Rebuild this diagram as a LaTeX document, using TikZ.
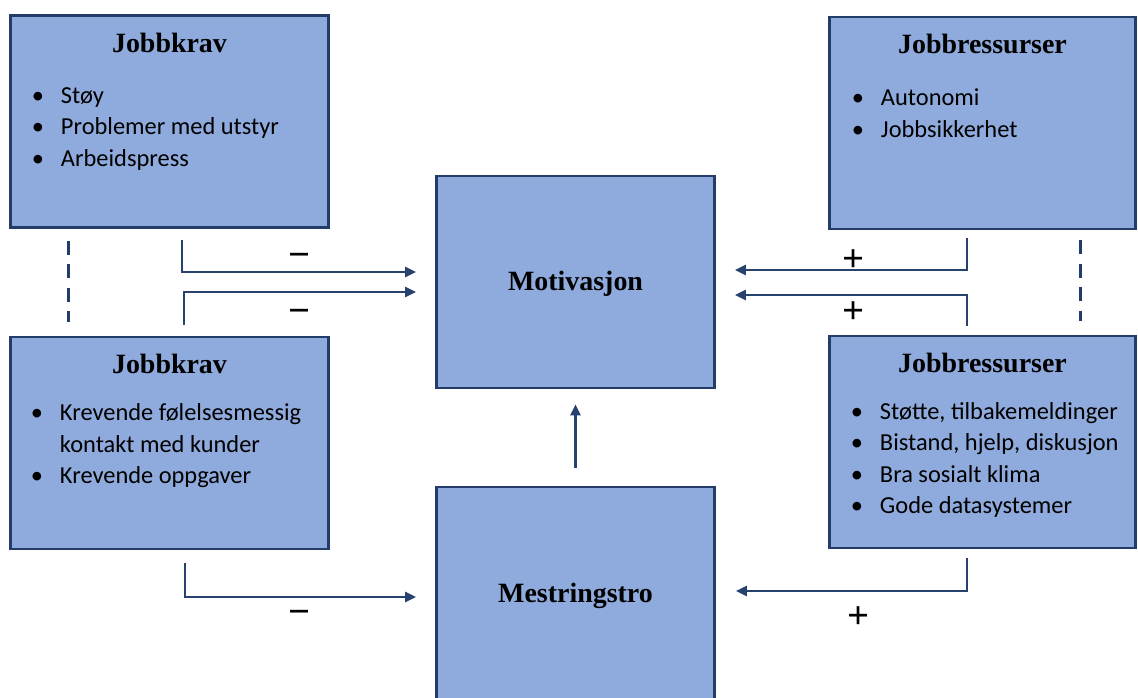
\documentclass[tikz,border=0pt]{standalone}
\usepackage{fontspec}
\setmainfont{Liberation Serif}
\newfontfamily\listfont{Carlito}
\usetikzlibrary{arrows.meta,positioning,calc}
\definecolor{boxblue}{RGB}{143,170,220}
\definecolor{navy}{RGB}{36,60,104}
\definecolor{arrowblue}{RGB}{40,66,112}
\newcommand{\blist}[1]{\begin{tabular}[t]{@{}p{0.58cm}@{}l@{}}#1\end{tabular}}

\begin{document}
\begin{tikzpicture}[x=0.02cm, y=-0.02cm,
  box/.style={draw=navy, fill=boxblue, line width=1.6pt, minimum height=4.24cm, inner sep=0pt},
  title/.style={anchor=base, font=\bfseries\fontsize{15.9}{19}\selectfont, inner sep=0pt},
  items/.style={anchor=base west, font=\listfont\fontsize{13.9}{17.9}\selectfont, inner sep=0pt},
  conn/.style={draw=arrowblue, line width=1.35pt, -{Triangle[length=0.22cm, width=0.2cm]}},
  sep/.style={draw=navy, line width=1.6pt, dash pattern=on 0.28cm off 0.19cm},
  sign/.style={font=\bfseries\fontsize{22}{24}\selectfont, inner sep=0pt}]
\clip (0,0) rectangle (1138,697);
% boxes
\node[box, minimum width=6.36cm] (krav1) at (169.5,121.5) {};
\node[box, minimum width=6.36cm] (krav2) at (169.5,443) {};
\node[box, minimum width=6.12cm] (ress1) at (982.5,123) {};
\node[box, minimum width=6.12cm] (ress2) at (982.5,442) {};
\node[box, minimum width=5.56cm] (motiv) at (575.5,282) {};
\node[box, minimum width=5.56cm] (mestr) at (575.5,593) {};
% titles
\node[title] (t1) at ($(krav1.north)+(0,38)$) {Jobbkrav};
\node[title] (t2) at ($(krav2.north)+(0,38)$) {Jobbkrav};
\node[title] (t3) at ($(ress1.north)+(0,38)$) {Jobbressurser};
\node[title] (t4) at ($(ress2.north)+(0,38)$) {Jobbressurser};
\node[title] (t5) at ($(motiv.center)+(0,8)$) {Motivasjon};
\node[title] (t6) at ($(mestr.center)+(0,9)$) {Mestringstro};
% lists
\node[items] (l1) at ($(krav1.north west)+(22.5,89)$) {\blist{• & Støy\\ • & Problemer med utstyr\\ • & Arbeidspress}};
\node[items] (l2) at ($(krav2.north west)+(21.5,85)$) {\blist{• & Krevende følelsesmessig\\ & kontakt med kunder\\ • & Krevende oppgaver}};
\node[items] (l3) at ($(ress1.north west)+(23.5,90)$) {\blist{• & Autonomi\\ • & Jobbsikkerhet}};
\node[items] (l4) at ($(ress2.north west)+(22.5,84.5)$) {\blist{• & Støtte, tilbakemeldinger\\ • & Bistand, hjelp, diskusjon\\ • & Bra sosialt klima\\ • & Gode datasystemer}};
% dashed links
\draw[sep] ($(krav1.south west)+(59.5,12)$) -- ($(krav2.north west)+(59.5,-13.5)$);
\draw[sep] ($(ress1.south west)+(252.5,10)$) -- ($(ress2.north west)+(252.5,-13.5)$);
% arrows
\coordinate (a1) at (182,240);
\coordinate (a2) at (184,325);
\coordinate (a3) at (185,563);
\coordinate (b1) at (967,238);
\coordinate (b2) at (967,326);
\coordinate (b3) at (967,558);
\draw[conn] (a1) |- ($(motiv.west)+(-19,-10)$);
\draw[conn] (a2) |- ($(motiv.west)+(-19,10)$);
\draw[conn] (b1) |- ($(motiv.east)+(19,-12)$);
\draw[conn] (b2) |- ($(motiv.east)+(19,13)$);
\draw[conn] (a3) |- ($(mestr.west)+(-19,4)$);
\draw[conn] (b3) |- ($(mestr.east)+(20,-2)$);
\draw[conn, shorten <=0.35cm, shorten >=0.3cm] (mestr) -- (motiv);
% signs
\node[sign] (s1) at (300,260) {−};
\node[sign] (s2) at (300,316) {−};
\node[sign] (s3) at (300,617) {−};
\node[sign] (s4) at (853,261) {+};
\node[sign] (s5) at (853,313) {+};
\node[sign] (s6) at (858,618) {+};
\end{tikzpicture}
\end{document}
